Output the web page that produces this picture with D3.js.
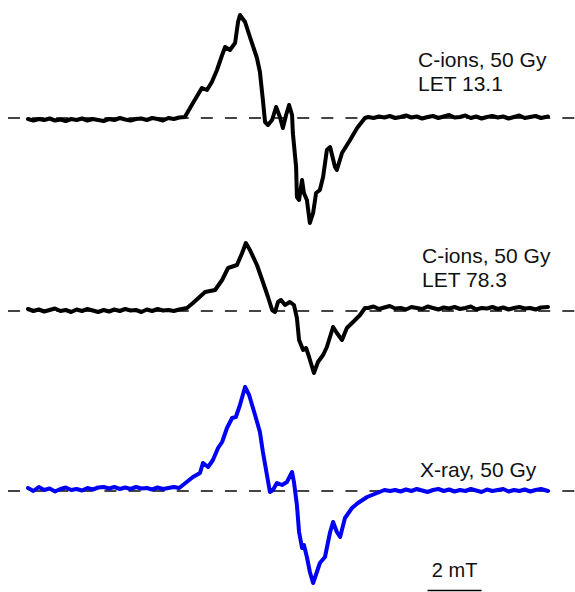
<!DOCTYPE html>
<html lang="en">
<head>
  <meta charset="UTF-8">
  <title>EPR spectra</title>
  <style>
    body { margin: 0; background: #fff; }
    svg { display: block; font-family: "Liberation Sans", Arial, sans-serif; }
  </style>
  <script src="https://d3js.org/d3.v7.min.js"></script>
</head>
<body>
  <div id="chart"></div>
  <script>
  // field in mT (relative), amplitude in arbitrary units
  const cLet13 = [
    [0,-1],[0.2,-2.5],[0.4,-1],[0.6,-2],[0.8,-0.5],[1.0,-2.5],[1.2,-1.5],[1.4,-3],[1.6,-1],[1.8,-2],
    [2.0,-0.5],[2.2,-2.5],[2.4,-1],[2.6,-2],[2.8,-3],[3.0,-1],[3.2,-2],[3.4,0],[3.6,-1.5],[3.8,-2.5],
    [4.0,-1],[4.2,-0.5],[4.4,-2],[4.6,0],[4.8,-1],[5.0,-2.5],[5.2,0],[5.4,-1],[5.6,0.5],[5.81,1],
    [6.11,15],[6.44,30],[6.63,28],[6.81,36],[7.0,48],[7.19,63],[7.30,71],[7.48,68],[7.67,75],[7.78,96],
    [7.85,103],[8.04,96],[8.22,81],[8.48,60],[8.59,46],[8.70,18],[8.78,-4],[8.89,-7],[9.04,-2],[9.19,11],
    [9.33,1],[9.44,-10],[9.56,3],[9.67,13],[9.78,3],[9.81,-15],[9.93,-49],[9.96,-79],[10.04,-82],[10.15,-62],
    [10.22,-75],[10.33,-82],[10.44,-105],[10.56,-95],[10.67,-75],[10.81,-72],[10.93,-59],[11.07,-32],[11.19,-29],[11.37,-49],
    [11.44,-52],[11.63,-35],[11.93,-22],[12.19,-10],[12.48,0],
    [12.6,1],[12.8,0],[13.0,1.5],[13.2,0.5],[13.4,2],[13.6,0],[13.8,1],[14.0,2.5],[14.2,0.5],[14.4,1.5],
    [14.6,-0.5],[14.8,1],[15.0,2],[15.2,0],[15.4,1.5],[15.6,3],[15.8,0.5],[16.0,1],[16.2,2.5],[16.4,0],
    [16.6,1.5],[16.8,-0.5],[17.0,1],[17.2,2],[17.4,0.5],[17.6,1.5],[17.8,-0.5],[18.0,1],[18.2,2.5],[18.4,0],
    [18.6,1],[18.8,2],[19.0,0],[19.26,1.5]
  ];

  const cLet78 = [
    [0,2],[0.2,0],[0.4,1.5],[0.6,-0.5],[0.8,1],[1.0,2.5],[1.2,0],[1.4,1],[1.6,-1],[1.8,1.5],
    [2.0,0],[2.2,2],[2.4,0.5],[2.6,-1],[2.8,1],[3.0,-0.5],[3.2,1.5],[3.4,0],[3.6,2],[3.8,0.5],
    [4.0,1],[4.2,-1],[4.4,1.5],[4.6,0],[4.8,2],[5.0,0.5],[5.2,1],[5.4,0],[5.6,1.5],[5.89,3],
    [6.11,8],[6.56,19],[6.93,21],[7.19,31],[7.41,43],[7.74,46],[7.93,58],[8.07,68],[8.22,61],[8.48,46],
    [8.70,29],[8.89,14],[9.04,1],[9.15,-1],[9.26,9],[9.37,11],[9.52,6],[9.70,9],[9.85,6],[9.96,-7],
    [10.04,-29],[10.19,-39],[10.30,-37],[10.41,-46],[10.59,-62],[10.74,-51],[10.93,-44],[11.07,-36],[11.30,-16],[11.44,-22],
    [11.63,-29],[11.81,-17],[12.04,-11],[12.30,-4],[12.48,3],
    [12.6,3],[12.8,4.5],[13.0,2],[13.2,3.5],[13.4,5],[13.6,2.5],[13.8,3],[14.0,1.5],[14.2,4],[14.4,3],
    [14.6,2],[14.8,4.5],[15.0,3],[15.2,1.5],[15.4,3.5],[15.6,2.5],[15.8,4],[16.0,2],[16.2,3],[16.4,4.5],
    [16.6,1.5],[16.8,3],[17.0,2.5],[17.2,4],[17.4,2],[17.6,3.5],[17.8,1.5],[18.0,3],[18.2,4],[18.4,2.5],
    [18.6,3],[18.8,1.5],[19.0,3.5],[19.26,4]
  ];

  const xray = [
    [0,3],[0.2,0],[0.4,4],[0.6,1],[0.8,2.5],[1.0,-0.5],[1.2,2],[1.4,3.5],[1.6,1],[1.8,2],
    [2.0,0.5],[2.2,3],[2.4,1.5],[2.6,3.5],[2.8,4],[3.0,2.5],[3.2,4],[3.4,2],[3.6,3.5],[3.8,2],
    [4.0,4],[4.2,2.5],[4.4,3],[4.6,1.5],[4.8,3.5],[5.0,2],[5.2,3],[5.4,4],[5.6,3],[5.74,6],
    [6.11,14],[6.37,18],[6.48,28],[6.67,24],[6.85,31],[7.04,43],[7.19,49],[7.37,63],[7.56,73],[7.70,74],
    [7.85,86],[8.04,104],[8.19,96],[8.41,76],[8.59,59],[8.70,39],[8.85,16],[8.96,-1],[9.07,1],[9.22,8],
    [9.41,6],[9.59,9],[9.78,19],[9.85,9],[9.96,-14],[10.04,-41],[10.15,-57],[10.22,-54],[10.33,-66],[10.44,-81],
    [10.56,-92],[10.70,-81],[10.81,-72],[11.00,-66],[11.19,-41],[11.30,-31],[11.44,-41],[11.56,-46],[11.74,-27],[12.00,-17],
    [12.22,-12],[12.56,-6],[12.93,-2],[13.2,1],[13.41,0],
    [13.6,1],[13.8,-0.5],[14.0,1.5],[14.2,0],[14.4,2],[14.6,0.5],[14.8,-1],[15.0,1],[15.2,2],[15.4,0],
    [15.6,1.5],[15.8,-0.5],[16.0,1],[16.2,0],[16.4,2],[16.6,0.5],[16.8,-1],[17.0,1.5],[17.2,0],[17.4,1],
    [17.6,2],[17.8,-0.5],[18.0,1],[18.2,0],[18.4,1.5],[18.6,-0.5],[18.8,1],[19.0,2],[19.26,0]
  ];

  const seriesData = [cLet13, cLet78, xray];
  const seriesColors = ['#000', '#000', '#0000f5'];
  const seriesLabels = [
    ['C-ions, 50 Gy', 'LET 13.1'],
    ['C-ions, 50 Gy', 'LET 78.3'],
    ['X-ray, 50 Gy']
  ];

  const W = 575, H = 592;
  // panel layout: baseline y, label position
  const panels = [
    { base: 118, lx: 418, ly: 67 },
    { base: 311, lx: 422, ly: 263 },
    { base: 491, lx: 420, ly: 477 }
  ];

  const svg = d3.select('#chart').append('svg')
    .attr('width', W).attr('height', H);

  const x = d3.scaleLinear().domain([0, 19.26]).range([28, 548]);
  const line = d3.line().x(d => x(d[0]));

  seriesData.forEach((data, i) => {
    const p = panels[i];
    const y = d3.scaleLinear().domain([-120, 120]).range([p.base + 120, p.base - 120]);

    // dashed zero line
    svg.append('line')
      .attr('x1', x(-0.74)).attr('x2', W)
      .attr('y1', y(0)).attr('y2', y(0))
      .attr('stroke', '#444').attr('stroke-width', 2)
      .attr('stroke-dasharray', '12,12.1');

    svg.append('path')
      .datum(data)
      .attr('d', line.y(d => y(d[1])))
      .attr('fill', 'none')
      .attr('stroke', seriesColors[i])
      .attr('stroke-width', 4)
      .attr('stroke-linejoin', 'round')
      .attr('stroke-linecap', 'round');

    svg.append('text')
      .attr('x', p.lx).attr('y', p.ly)
      .attr('font-size', 21).attr('fill', '#111')
      .selectAll('tspan').data(seriesLabels[i]).join('tspan')
        .attr('x', p.lx)
        .attr('dy', (d, j) => j ? 24 : 0)
        .text(d => d);
  });

  // 2 mT scale bar
  const bar = { from: 14.8, len: 2, label: '2 mT' };
  svg.append('line')
    .attr('x1', x(bar.from)).attr('x2', x(bar.from + bar.len))
    .attr('y1', 590.5).attr('y2', 590.5)
    .attr('stroke', '#000').attr('stroke-width', 1.5);
  svg.append('text')
    .attr('x', x(bar.from + bar.len / 2)).attr('y', 577)
    .attr('text-anchor', 'middle')
    .attr('font-size', 20).attr('fill', '#111')
    .text(bar.label);
  </script>
</body>
</html>
